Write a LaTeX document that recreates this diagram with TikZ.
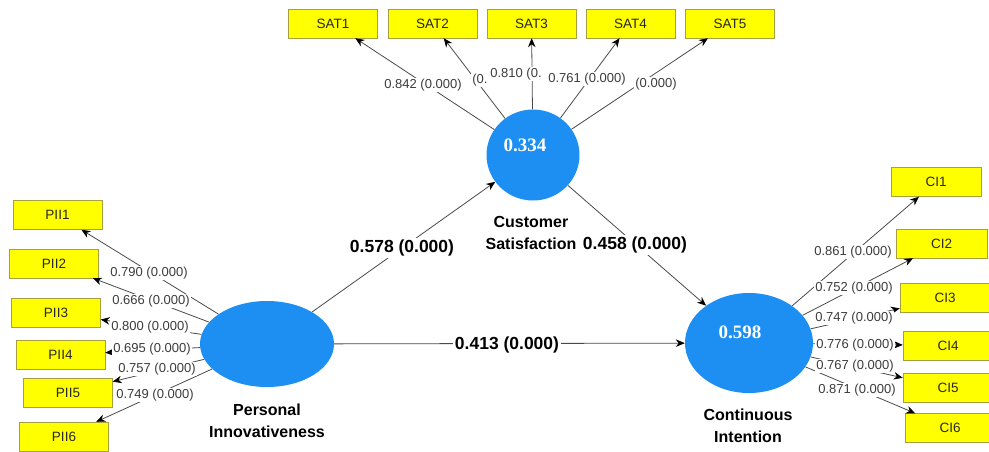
\documentclass[tikz,border=0pt]{standalone}
\usepackage{fontspec}
\setmainfont{Liberation Sans}
\newfontfamily\rfont{Liberation Serif}
\usetikzlibrary{arrows.meta,shapes.geometric}
\definecolor{lvblue}{HTML}{1E8FF2}
\definecolor{boxyel}{HTML}{FFFF00}
\definecolor{boxedge}{HTML}{A8A040}
\definecolor{txtgray}{HTML}{3C3C3C}
\definecolor{linegray}{HTML}{4A4A4A}
\begin{document}
\begin{tikzpicture}[x=1pt,y=-1pt,
 ind/.style={draw=boxedge, fill=boxyel, minimum width=89pt, minimum height=29pt, inner sep=0pt, font=\fontsize{13.5}{15}\selectfont, text=black!85},
 lv/.style={ellipse, fill=lvblue, draw=none, inner sep=0pt},
 ld/.style={fill=white, inner sep=1pt, text=txtgray, font=\fontsize{13}{15}\selectfont},
 pc/.style={fill=white, inner sep=1.5pt, font=\bfseries\fontsize{17.5}{20}\selectfont},
 nm/.style={font=\bfseries\fontsize{16}{22}\selectfont, align=center},
 rsq/.style={text=white, font=\rfont\bfseries\fontsize{19}{21}\selectfont},
 arr/.style={draw=linegray, line width=0.8pt, -{Stealth[length=9pt,width=7.5pt,black]}},
]
\useasboundingbox (0,0) rectangle (989,451);
% latent variables
\node[lv, minimum width=134pt, minimum height=86pt] (PI) at (267,344) {};
\node[lv, minimum width=93pt, minimum height=91pt] (CS) at (533,155) {};
\node[lv, minimum width=128pt, minimum height=100pt] (CI) at (749,343) {};
% indicators
\node[ind] (SAT1) at (333,23.5) {SAT1};
\node[ind] (SAT2) at (432.5,23.5) {SAT2};
\node[ind] (SAT3) at (531.5,23.5) {SAT3};
\node[ind] (SAT4) at (630.5,23.5) {SAT4};
\node[ind] (SAT5) at (730,23.5) {SAT5};
\node[ind] (PII1) at (57.5,215) {PII1};
\node[ind] (PII2) at (54,263.5) {PII2};
\node[ind] (PII3) at (56,313) {PII3};
\node[ind] (PII4) at (60.5,355) {PII4};
\node[ind] (PII5) at (68,392.5) {PII5};
\node[ind] (PII6) at (64,436.5) {PII6};
\node[ind, minimum width=90pt] (CI1) at (936,182) {CI1};
\node[ind, minimum width=91pt] (CI2) at (941.5,243.5) {CI2};
\node[ind, minimum width=90pt] (CI3) at (945,298) {CI3};
\node[ind, minimum width=90pt] (CI4) at (948,345.5) {CI4};
\node[ind, minimum width=90pt] (CI5) at (948,388) {CI5};
\node[ind, minimum width=90pt] (CI6) at (950,428) {CI6};
% loadings
\foreach \i in {1,...,5} \draw[arr] (CS) -- (SAT\i);
\foreach \i in {1,...,6} \draw[arr] (PI) -- (PII\i);
\foreach \i in {1,...,6} \draw[arr] (CI) -- (CI\i);
% structural paths
\draw[arr] (PI) -- (CS);
\draw[arr] (CS) -- (CI);
\draw[arr] (PI) -- (CI);
% R squared
\node[rsq] (r1) at (525,145) {0.334};
\node[rsq] (r2) at (740,332) {0.598};
% names
\node[nm] (n1) at (531,233) {Customer\\Satisfaction};
\node[nm] (n2) at (267,421) {Personal\\Innovativeness};
\node[nm] (n3) at (748,426) {Continuous\\Intention};
% path coefficients
\node[pc] (p1) at (402,248) {0.578 (0.000)};
\node[pc] (p2) at (635,245) {0.458 (0.000)};
\node[pc] (p3) at (507,345) {0.413 (0.000)};
% loading labels
\node[ld] (ls1) at (423,85) {0.842 (0.000)};
\node[ld] (ls2) at (480,80) {(0.};
\node[ld] (ls3) at (516,74) {0.810 (0.};
\node[ld] (ls4) at (587,79) {0.761 (0.000)};
\node[ld] (ls5) at (656,84) {(0.000)};
\node[ld] (lp1) at (149,273) {0.790 (0.000)};
\node[ld] (lp2) at (151,301) {0.666 (0.000)};
\node[ld] (lp3) at (150,327) {0.800 (0.000)};
\node[ld] (lp4) at (152,349) {0.695 (0.000)};
\node[ld] (lp5) at (157,369) {0.757 (0.000)};
\node[ld] (lp6) at (155,395) {0.749 (0.000)};
\node[ld] (lc1) at (853,252) {0.861 (0.000)};
\node[ld] (lc2) at (854,288) {0.752 (0.000)};
\node[ld] (lc3) at (854,318) {0.747 (0.000)};
\node[ld] (lc4) at (855,345) {0.776 (0.000)};
\node[ld] (lc5) at (855,366) {0.767 (0.000)};
\node[ld] (lc6) at (857,390) {0.871 (0.000)};
\end{tikzpicture}
\end{document}
